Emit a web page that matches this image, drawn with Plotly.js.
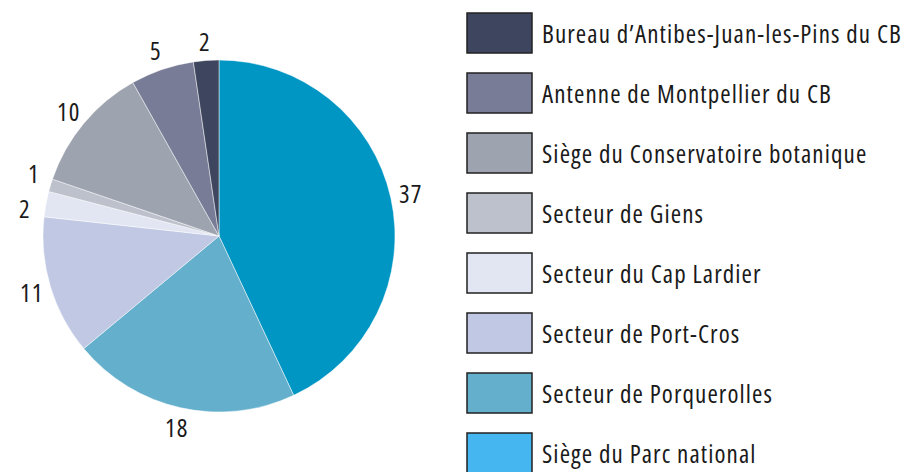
<!DOCTYPE html>
<html>
<head>
<meta charset="utf-8">
<script src="https://cdn.plot.ly/plotly-3.0.1.min.js"></script>
<style>
html,body{margin:0;padding:0;background:#fff;}
#chart{width:910px;height:472px;}
text{font-stretch:87%;letter-spacing:1.1px;}
</style>
</head>
<body>
<div id="chart"></div>
<script>
// Data (clockwise from 12 o'clock)
const categories = [
  "Siège du Parc national",
  "Secteur de Porquerolles",
  "Secteur de Port-Cros",
  "Secteur du Cap Lardier",
  "Secteur de Giens",
  "Siège du Conservatoire botanique",
  "Antenne de Montpellier du CB",
  "Bureau d’Antibes-Juan-les-Pins du CB"
];
const values = [37, 18, 11, 2, 1, 10, 5, 2];
const sliceColors = ["#0096c4", "#63afcc", "#c0c8e4", "#e1e6f2", "#bcc1cc", "#9ea3b0", "#787c96", "#3d465e"];

// Legend order (top to bottom) and swatch colours
const legendLabels = [
  "Bureau d’Antibes-Juan-les-Pins du CB",
  "Antenne de Montpellier du CB",
  "Siège du Conservatoire botanique",
  "Secteur de Giens",
  "Secteur du Cap Lardier",
  "Secteur de Port-Cros",
  "Secteur de Porquerolles",
  "Siège du Parc national"
];
const legendColors = ["#3d465e", "#787c96", "#9ea3b0", "#bcc1cc", "#e1e6f2", "#c0c8e4", "#63afcc", "#45b6f0"];

const FONT = "'Open Sans', sans-serif";
const W = 910, H = 472;
const CX = 219, CY = 236, R = 176, LABEL_R = 196, MIN_LABEL_GAP = 36;

const trace = {
  type: "pie",
  labels: categories,
  values: values,
  sort: false,
  direction: "clockwise",
  rotation: 0,
  marker: {colors: sliceColors, line: {color: "rgba(255,255,255,0.6)", width: 0.8}},
  textinfo: "none",
  showlegend: false,
  hoverinfo: "label+value",
  domain: {x: [(CX - R) / W, (CX + R) / W], y: [(H - CY - R) / H, (H - CY + R) / H]}
};

const shapes = [];
const annotations = [];

// value labels outside each slice, at its mid-angle, spread apart when too close
const total = values.reduce((a, b) => a + b, 0);
let cum = 0;
const angles = values.map((v) => {
  const a = (cum + v / 2) / total * 2 * Math.PI;
  cum += v;
  return a;
});
const minSep = MIN_LABEL_GAP / LABEL_R;
for (let it = 0; it < 20; it++) {
  for (let i = 0; i < angles.length - 1; i++) {
    const d = angles[i + 1] - angles[i];
    if (d < minSep) {
      const push = (minSep - d) / 2;
      angles[i] -= push;
      angles[i + 1] += push;
    }
  }
}
values.forEach((v, i) => {
  const a = angles[i];
  const px = CX + LABEL_R * Math.sin(a);
  const py = CY - LABEL_R * Math.cos(a);
  annotations.push({
    xref: "paper", yref: "paper",
    x: px / W, y: 1 - py / H,
    xanchor: "center", yanchor: "middle",
    text: String(v), showarrow: false,
    font: {family: FONT, size: 25, color: "#1a1a1a"}
  });
});

legendLabels.forEach((lab, i) => {
  const cy = 33 + i * 60;
  shapes.push({
    type: "rect", xref: "paper", yref: "paper",
    x0: 467 / W, x1: 532 / W,
    y0: 1 - (cy - 20) / H, y1: 1 - (cy + 20) / H,
    fillcolor: legendColors[i],
    line: {color: "#222", width: 1.5}
  });
  annotations.push({
    xref: "paper", yref: "paper",
    x: 540 / W, y: 1 - cy / H,
    xanchor: "left", yanchor: "middle", align: "left",
    text: lab, showarrow: false,
    font: {family: FONT, size: 25, color: "#1a1a1a"}
  });
});

const layout = {
  width: W, height: H,
  margin: {l: 0, r: 0, t: 0, b: 0},
  paper_bgcolor: "#fff",
  plot_bgcolor: "#fff",
  shapes: shapes,
  annotations: annotations,
  showlegend: false
};

Plotly.newPlot("chart", [trace], layout, {displayModeBar: false, staticPlot: true});
</script>
</body>
</html>
